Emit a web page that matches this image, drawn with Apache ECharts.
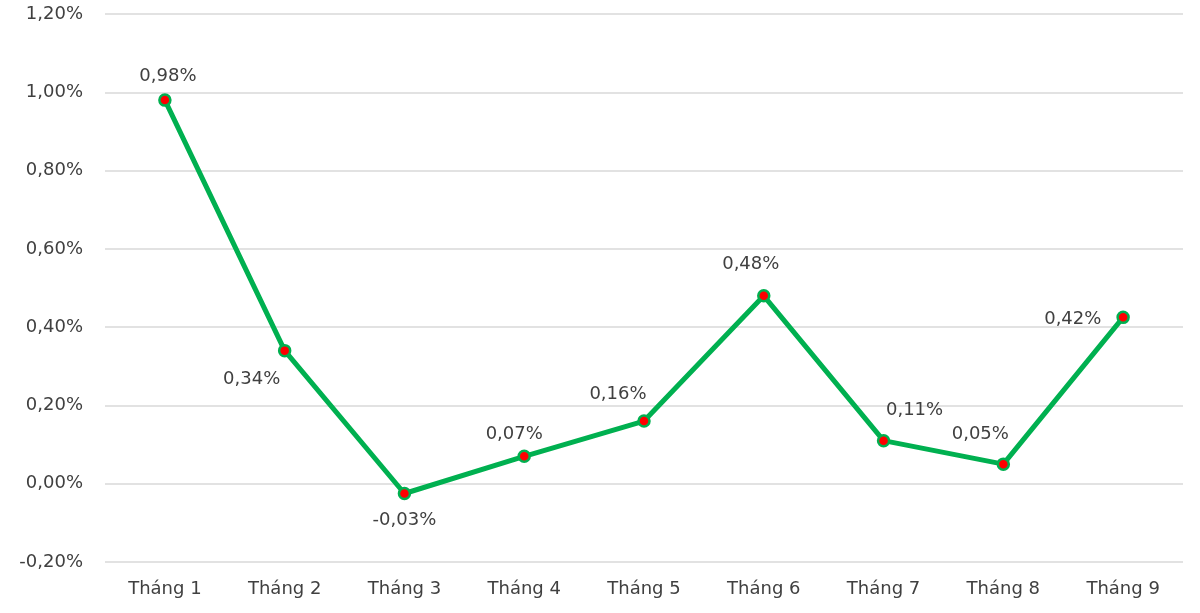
<!DOCTYPE html>
<html><head><meta charset="utf-8">
<script src="https://cdn.jsdelivr.net/npm/echarts@6/dist/echarts.min.js"></script>
<style>html,body{margin:0;padding:0;background:#fff}#c{width:1200px;height:613px}</style>
</head><body><div id="c"></div>
<script>
const categories = ['Tháng 1','Tháng 2','Tháng 3','Tháng 4','Tháng 5','Tháng 6','Tháng 7','Tháng 8','Tháng 9'];
const values = [0.98, 0.34, -0.025, 0.07, 0.16, 0.48, 0.11, 0.05, 0.425];
const valueLabels = ['0,98%','0,34%','-0,03%','0,07%','0,16%','0,48%','0,11%','0,05%','0,42%'];

// label placement (style only)
const labelPlacement = [
  {position:'top', offset:[3,2]},
  {position:'bottom', offset:[-33,3]},
  {position:'bottom', offset:[0,1]},
  {position:'top', offset:[-10,4]},
  {position:'top', offset:[-26,-1]},
  {position:'top', offset:[-13,-6]},
  {position:'top', offset:[31,-5]},
  {position:'top', offset:[-23,-4]},
  {position:'left', offset:[-5,2]}
];

const fmt = v => v.toFixed(2).replace('.', ',') + '%';
const font = 'DejaVu Sans, sans-serif';

const chart = echarts.init(document.getElementById('c'), null, {renderer:'canvas'});
chart.setOption({
  animation:false,
  grid:{left:105, right:17, top:14, bottom:51},
  xAxis:{
    type:'category', data:categories, boundaryGap:true,
    axisLine:{show:false}, axisTick:{show:false},
    axisLabel:{color:'#404040', fontSize:18, fontFamily:font, margin:18}
  },
  yAxis:{
    type:'value', min:-0.2, max:1.2, interval:0.2,
    axisLine:{show:false}, axisTick:{show:false},
    splitLine:{lineStyle:{color:'#d9d9d9', width:1.5}},
    axisLabel:{color:'#404040', fontSize:18, fontFamily:font, margin:22, formatter:fmt}
  },
  series:[{
    type:'line',
    data: values.map((v,i)=>({
      value:v,
      label:{show:true, position:labelPlacement[i].position, offset:labelPlacement[i].offset,
        distance:10, formatter:valueLabels[i], color:'#404040', fontSize:18, fontFamily:font}
    })),
    lineStyle:{color:'#00B050', width:5},
    symbol:'circle', symbolSize:11,
    itemStyle:{color:'#FF0000', borderColor:'#00B050', borderWidth:2.5}
  }]
});
</script></body></html>
